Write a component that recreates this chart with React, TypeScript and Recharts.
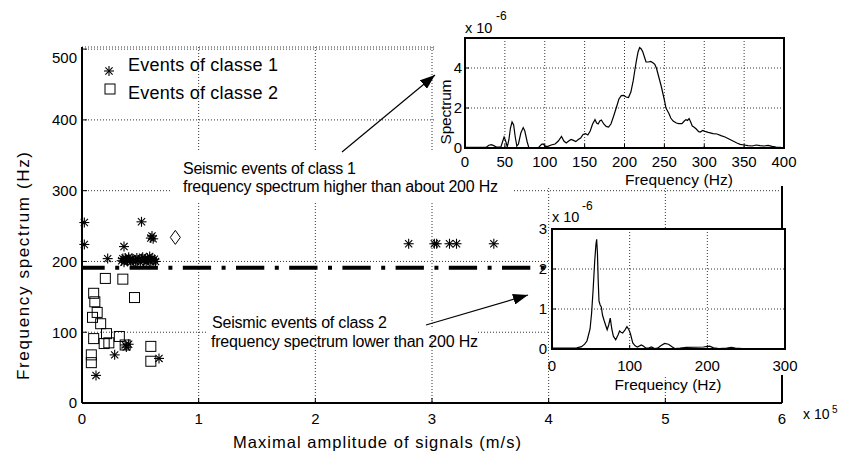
import React from 'react';
import {
  ScatterChart, Scatter, XAxis, YAxis, CartesianGrid, ReferenceLine,
  LineChart, Line, ReferenceArea,
} from 'recharts';

const FONT = '"Liberation Sans", Arial, Helvetica, sans-serif';

// ---------- main chart data ----------
const mainXTicks = [0, 1, 2, 3, 4, 5, 6];
const mainYTicks = [0, 100, 200, 300, 400, 500];
const thresholdHz = 191;

const class1Points: [number, number][] = [
  [0.02, 255], [0.02, 224], [0.12, 39], [0.22, 204], [0.28, 68], [0.36, 221],
  [0.37, 82], [0.38, 79], [0.40, 83], [0.51, 256], [0.59, 233], [0.60, 236],
  [0.61, 232], [0.66, 63],
  [0.34, 201], [0.35, 204], [0.36, 199], [0.37, 205], [0.38, 202], [0.39, 200],
  [0.40, 206], [0.41, 203], [0.42, 199], [0.43, 204], [0.44, 201], [0.46, 200],
  [0.47, 205], [0.48, 202], [0.50, 199], [0.51, 204], [0.52, 206], [0.53, 201],
  [0.54, 203], [0.55, 199], [0.56, 205], [0.57, 202], [0.58, 207], [0.59, 200],
  [0.60, 204], [0.61, 201], [0.62, 203], [0.63, 200],
  [2.80, 225], [3.02, 225], [3.04, 225], [3.15, 225], [3.21, 225], [3.53, 225],
];

const class2Points: [number, number][] = [
  [0.20, 176], [0.35, 175], [0.45, 149], [0.10, 155], [0.11, 143], [0.13, 128],
  [0.09, 121], [0.16, 112], [0.21, 98], [0.10, 91], [0.19, 84], [0.23, 85],
  [0.32, 94], [0.37, 82], [0.59, 80], [0.59, 59], [0.08, 68], [0.08, 57],
];

const otherPoints: [number, number][] = [[0.80, 234]];

// ---------- upper inset (class 1 spectrum, x 10^-6) ----------
const upperFreq = [
  0, 10, 20, 27, 30, 33, 36, 40, 45, 47, 49, 51, 53, 55, 57, 59, 61, 63, 65, 67,
  70, 73, 75, 78, 80, 85, 92, 96, 98, 101, 104, 108, 113, 117, 121, 124, 127, 130,
  133, 136, 139, 142, 145, 148, 151, 154, 157, 160, 163, 165, 167, 169, 171, 174,
  177, 180, 183, 186, 190, 193, 196, 199, 202, 205, 208, 211, 213, 215, 217, 219,
  221, 223, 225, 227, 230, 233, 236, 238, 240, 242, 244, 246, 248, 250, 252, 254,
  256, 258, 261, 265, 268, 272, 275, 277, 279, 281, 283, 285, 287, 290, 293, 295,
  298, 301, 305, 311, 316, 321, 326, 331, 336, 341, 345, 350, 355, 360, 365, 370,
  375, 380, 385, 390, 396,
];
const upperAmp = [
  0.03, 0.03, 0.03, 0.05, 0.14, 0.17, 0.12, 0.04, 0.05, 0.3, 0.55, 0.35, 0.06, 0.4,
  1.0, 1.3, 1.15, 0.55, 0.1, 0.2, 0.75, 1.02, 0.85, 0.3, 0.03, 0.02, 0.02, 0.18,
  0.2, 0.08, 0.08, 0.15, 0.2, 0.35, 0.58, 0.35, 0.25, 0.35, 0.43, 0.38, 0.32, 0.42,
  0.5, 0.68, 0.72, 0.65, 0.85, 1.2, 1.42, 1.25, 1.2, 1.35, 1.4, 1.2, 1.08, 1.05,
  1.2, 1.55, 2.05, 2.45, 2.62, 2.63, 2.55, 2.52, 2.8, 3.38, 3.9, 4.38, 4.8, 5.02,
  4.95, 4.8, 4.55, 4.3, 4.3, 4.33, 4.25, 4.18, 4.0, 3.7, 3.4, 3.1, 2.75, 2.4, 2.0,
  1.85, 1.7, 1.5, 1.35, 1.25, 1.22, 1.22, 1.35, 1.42, 1.38, 1.47, 1.3, 1.1, 1.05,
  0.95, 0.82, 0.8, 0.88, 0.83, 0.78, 0.72, 0.7, 0.62, 0.55, 0.45, 0.35, 0.25, 0.18,
  0.15, 0.12, 0.1, 0.15, 0.12, 0.1, 0.13, 0.08, 0.05, 0.03,
];
const upperXTicks = [0, 50, 100, 150, 200, 250, 300, 350, 400];
const upperYTicks = [0, 2, 4];

// ---------- lower inset (class 2 spectrum, x 10^-6) ----------
const lowerFreq = [
  0, 20, 32, 38, 42, 45, 47, 49, 51, 53, 55, 56.5, 57.5, 58.5, 59.5, 60.5, 62, 63.5,
  65, 67, 69, 71, 73, 75, 77, 79, 82, 85, 87, 89, 91, 94, 96.5, 99, 101, 104, 107,
  110, 115, 118, 121, 125, 128, 132, 136, 140, 145, 150, 155, 158, 165, 173, 195,
  203, 208, 215, 225, 231, 236, 245, 270, 300,
];
const lowerAmp = [
  0.02, 0.02, 0.03, 0.06, 0.12, 0.2, 0.35, 0.5, 0.9, 1.5, 2.2, 2.6, 2.74, 2.4, 1.7,
  1.2, 1.1, 1.05, 0.85, 0.72, 0.6, 0.48, 0.6, 0.77, 0.5, 0.32, 0.23, 0.35, 0.45,
  0.42, 0.4, 0.48, 0.56, 0.48, 0.38, 0.15, 0.08, 0.05, 0.1, 0.07, 0.02, 0.03, 0.05,
  0.01, 0.02, 0.08, 0.14, 0.12, 0.05, 0.01, 0.02, 0.04, 0.05, 0.07, 0.03, 0.01,
  0.02, 0.04, 0.02, 0.01, 0.01, 0.01,
];
const lowerXTicks = [0, 100, 200, 300];
const lowerYTicks = [0, 1, 2, 3];

// ---------- derived tables ----------
const toXY = (pts: [number, number][]) => pts.map(([x, y]) => ({ x, y }));
const class1Data = toXY(class1Points);
const class2Data = toXY(class2Points);
const otherData = toXY(otherPoints);
const upperData = upperFreq.map((f, i) => ({ f, v: upperAmp[i] }));
const lowerData = lowerFreq.map((f, i) => ({ f, v: lowerAmp[i] }));

// ---------- marker shapes ----------
const StarShape = (props: any) => {
  const { cx, cy } = props;
  const r = 5;
  const d = 3.6;
  return (
    <g stroke="#000" strokeWidth={1.1}>
      <line x1={cx - r} y1={cy} x2={cx + r} y2={cy} />
      <line x1={cx} y1={cy - r} x2={cx} y2={cy + r} />
      <line x1={cx - d} y1={cy - d} x2={cx + d} y2={cy + d} />
      <line x1={cx - d} y1={cy + d} x2={cx + d} y2={cy - d} />
    </g>
  );
};
const SquareShape = (props: any) => {
  const { cx, cy } = props;
  return <rect x={cx - 5} y={cy - 5} width={10} height={10} fill="none" stroke="#000" strokeWidth={1} />;
};
const DiamondShape = (props: any) => {
  const { cx, cy } = props;
  return (
    <polygon
      points={`${cx},${cy - 7} ${cx + 5},${cy} ${cx},${cy + 7} ${cx - 5},${cy}`}
      fill="none" stroke="#000" strokeWidth={1}
    />
  );
};

const MainYTick = (props: any) => {
  const { x, y, payload } = props;
  const shift = payload.value === 500 ? 8 : 0;
  return (
    <text x={x} y={y + shift} dy="0.36em" textAnchor="end" fontSize={15} fontFamily={FONT} fill="#000">
      {payload.value}
    </text>
  );
};

const tickStyle = { fontSize: 15, fill: '#000', fontFamily: FONT };
const gridStroke = { stroke: '#000', strokeDasharray: '1 2', strokeWidth: 0.8 };

export default function App() {
  return (
    <div style={{ position: 'absolute', left: 0, top: 0, width: 841, height: 464, background: '#fff', fontFamily: FONT }}>
      {/* Main scatter chart */}
      <div style={{ position: 'absolute', left: 0, top: 0 }}>
        <ScatterChart width={841} height={464} margin={{ top: 47, right: 59, bottom: 60, left: 81 }}>
          <CartesianGrid {...gridStroke} />
          <XAxis
            type="number" dataKey="x" domain={[0, 6]} ticks={mainXTicks} interval={0}
            height={1} tickSize={-5} tickMargin={15}
            axisLine={{ stroke: '#000', strokeWidth: 2 }} tickLine={{ stroke: '#000' }} tick={tickStyle}
          />
          <YAxis
            type="number" dataKey="y" domain={[0, 503]} ticks={mainYTicks} interval={0}
            width={1} tickSize={-5} tickMargin={10}
            axisLine={{ stroke: '#000', strokeWidth: 2 }} tickLine={{ stroke: '#000' }} tick={<MainYTick />}
          />
          <ReferenceLine x={6} stroke="#000" strokeWidth={2} />
          <ReferenceLine
            y={thresholdHz} stroke="#000" strokeWidth={4}
            strokeDasharray="28.3 10.5 4 10.4" strokeDashoffset={5.6}
          />
          <Scatter data={class1Data} shape={<StarShape />} isAnimationActive={false} />
          <Scatter data={class2Data} shape={<SquareShape />} isAnimationActive={false} />
          <Scatter data={otherData} shape={<DiamondShape />} isAnimationActive={false} />
        </ScatterChart>
      </div>

      {/* white backgrounds of annotation boxes */}
      <svg width={841} height={464} style={{ position: 'absolute', left: 0, top: 0 }}>
        <rect x={170} y={150} width={342} height={53} fill="#fff" />
        <rect x={207} y={329} width={271} height={6} fill="#fff" />
      </svg>

      {/* Upper inset */}
      <div style={{ position: 'absolute', left: 434, top: 0, width: 370, height: 186 }}>
        <div style={{ position: 'absolute', left: 0, top: 0, width: 351, height: 186, background: '#fff' }} />
        <div style={{ position: 'absolute', left: 0, top: 0 }}>
          <LineChart width={370} height={186} data={upperData} margin={{ top: 38, right: 20, bottom: 37, left: 30 }}>
            <CartesianGrid {...gridStroke} />
            <XAxis
              type="number" dataKey="f" domain={[0, 400]} ticks={upperXTicks} interval={0}
              height={1} tickSize={-4} tickMargin={12}
              axisLine={false} tickLine={{ stroke: '#000' }} tick={tickStyle}
            />
            <YAxis
              type="number" domain={[0, 5.5]} ticks={upperYTicks} interval={0}
              width={1} tickSize={-4} tickMargin={7}
              axisLine={false} tickLine={{ stroke: '#000' }} tick={tickStyle}
            />
            <ReferenceArea x1={0} x2={400} y1={0} y2={5.5} fill="none" stroke="#000" strokeWidth={2} fillOpacity={0} />
            <Line type="linear" dataKey="v" stroke="#000" strokeWidth={1.2} dot={false} isAnimationActive={false} />
          </LineChart>
        </div>
      </div>

      {/* Lower inset */}
      <div style={{ position: 'absolute', left: 530, top: 200, width: 280, height: 190 }}>
        <div style={{ position: 'absolute', left: 19, top: 28, width: 241, height: 147, background: '#fff' }} />
        <div style={{ position: 'absolute', left: 0, top: 0 }}>
          <LineChart width={280} height={190} data={lowerData} margin={{ top: 29, right: 25, bottom: 40, left: 21 }}>
            <CartesianGrid {...gridStroke} />
            <XAxis
              type="number" dataKey="f" domain={[0, 300]} ticks={lowerXTicks} interval={0}
              height={1} tickSize={-4} tickMargin={15}
              axisLine={false} tickLine={{ stroke: '#000' }} tick={tickStyle}
            />
            <YAxis
              type="number" domain={[0, 3]} ticks={lowerYTicks} interval={0}
              width={1} tickSize={-4} tickMargin={9}
              axisLine={false} tickLine={{ stroke: '#000' }} tick={tickStyle}
            />
            <ReferenceArea x1={0} x2={300} y1={0} y2={3} fill="none" stroke="#000" strokeWidth={2} fillOpacity={0} />
            <Line type="linear" dataKey="v" stroke="#000" strokeWidth={1.2} dot={false} isAnimationActive={false} />
          </LineChart>
        </div>
      </div>

      {/* Texts, legend and arrows */}
      <svg width={841} height={464} style={{ position: 'absolute', left: 0, top: 0, pointerEvents: 'none' }} fontFamily={FONT}>
        <defs>
          <marker id="ah" markerWidth={15} markerHeight={11} refX={15} refY={5.5} orient="auto" markerUnits="userSpaceOnUse">
            <path d="M0,0 L15,5.5 L0,11 z" fill="#000" />
          </marker>
        </defs>

        {/* legend */}
        <StarShape cx={109} cy={71} />
        <text x={128} y={71} fontSize={18} textLength={150} lengthAdjust="spacing" fill="#000">Events of classe 1</text>
        <SquareShape cx={110} cy={89} />
        <text x={128} y={99} fontSize={18} textLength={150} lengthAdjust="spacing" fill="#000">Events of classe 2</text>

        {/* annotations */}
        <text x={183} y={174} fontSize={16} textLength={173} lengthAdjust="spacing" fill="#000">Seismic events of class 1</text>
        <text x={183} y={191.5} fontSize={16} textLength={315} lengthAdjust="spacing" fill="#000">frequency spectrum higher than about 200 Hz</text>
        <text x={212} y={328} fontSize={16} textLength={175} lengthAdjust="spacing" fill="#000">Seismic events of class 2</text>
        <text x={211} y={346.5} fontSize={16} textLength={267} lengthAdjust="spacing" fill="#000">frequency spectrum lower than 200 Hz</text>

        <line x1={342} y1={152} x2={435} y2={75} stroke="#000" strokeWidth={1.2} markerEnd="url(#ah)" />
        <line x1={426} y1={325} x2={528} y2={295} stroke="#000" strokeWidth={1.2} markerEnd="url(#ah)" />

        {/* main axis labels */}
        <text x={233} y={448} fontSize={16.5} textLength={288} lengthAdjust="spacing" fill="#000">Maximal amplitude of signals (m/s)</text>
        <text transform="translate(29,266) rotate(-90)" textAnchor="middle" fontSize={17} textLength={228} lengthAdjust="spacing" fill="#000">Frequency spectrum  (Hz)</text>
        <text x={803} y={418.5} fontSize={14} fill="#000">x 10</text>
        <text x={832} y={413} fontSize={10} fill="#000">5</text>

        {/* upper inset labels */}
        <text x={465} y={33} fontSize={14.5} fill="#000">x 10</text>
        <text x={496} y={20} fontSize={12} fill="#000">-6</text>
        <text transform="translate(451,112) rotate(-90)" textAnchor="middle" fontSize={15.5} textLength={65} lengthAdjust="spacing" fill="#000">Spectrum</text>
        <text x={679} y={185} textAnchor="middle" fontSize={15.5} textLength={108} lengthAdjust="spacing" fill="#000">Frequency (Hz)</text>

        {/* lower inset labels */}
        <text x={552} y={222} fontSize={14.5} fill="#000">x 10</text>
        <text x={582} y={210} fontSize={12} fill="#000">-6</text>
        <text x={668} y={390} textAnchor="middle" fontSize={15.5} textLength={107} lengthAdjust="spacing" fill="#000">Frequency (Hz)</text>
      </svg>
    </div>
  );
}
